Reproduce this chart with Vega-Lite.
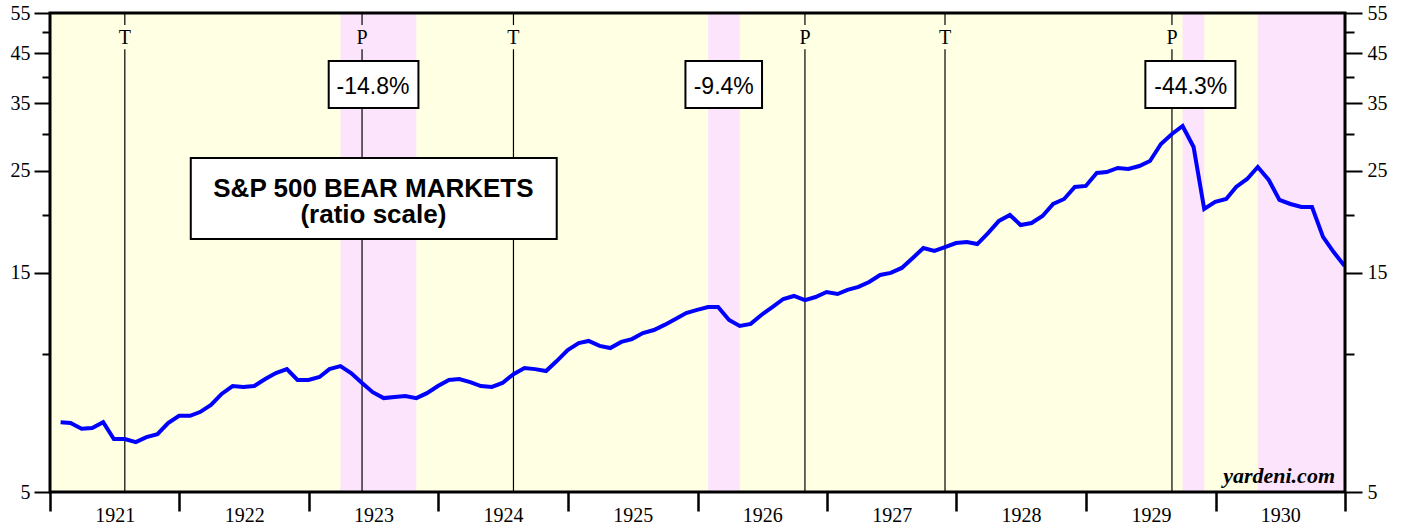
{
  "$schema": "https://vega.github.io/schema/vega-lite/v6.json",
  "width": 1295,
  "height": 479,
  "autosize": {"type": "none"},
  "padding": {"left": 50, "top": 13, "right": 60, "bottom": 37},
  "background": "white",
  "config": {"view": {"stroke": null, "fill": "#FFFFE3"}},
  "datasets": {
    "sp": [
      {"date": "1921-01-31", "value": 7.09}, {"date": "1921-02-28", "value": 7.06}, {"date": "1921-03-31", "value": 6.86}, {"date": "1921-04-30", "value": 6.89},
      {"date": "1921-05-31", "value": 7.09}, {"date": "1921-06-30", "value": 6.52}, {"date": "1921-07-31", "value": 6.52}, {"date": "1921-08-31", "value": 6.42},
      {"date": "1921-09-30", "value": 6.58}, {"date": "1921-10-31", "value": 6.68}, {"date": "1921-11-30", "value": 7.06}, {"date": "1921-12-31", "value": 7.32},
      {"date": "1922-01-31", "value": 7.32}, {"date": "1922-02-28", "value": 7.46}, {"date": "1922-03-31", "value": 7.73}, {"date": "1922-04-30", "value": 8.17},
      {"date": "1922-05-31", "value": 8.50}, {"date": "1922-06-30", "value": 8.46}, {"date": "1922-07-31", "value": 8.50}, {"date": "1922-08-31", "value": 8.80},
      {"date": "1922-09-30", "value": 9.07}, {"date": "1922-10-31", "value": 9.25}, {"date": "1922-11-30", "value": 8.76}, {"date": "1922-12-31", "value": 8.76},
      {"date": "1923-01-31", "value": 8.89}, {"date": "1923-02-28", "value": 9.25}, {"date": "1923-03-31", "value": 9.39}, {"date": "1923-04-30", "value": 9.07},
      {"date": "1923-05-31", "value": 8.63}, {"date": "1923-06-30", "value": 8.24}, {"date": "1923-07-31", "value": 8.00}, {"date": "1923-08-31", "value": 8.04},
      {"date": "1923-09-30", "value": 8.08}, {"date": "1923-10-31", "value": 8.00}, {"date": "1923-11-30", "value": 8.20}, {"date": "1923-12-31", "value": 8.50},
      {"date": "1924-01-31", "value": 8.76}, {"date": "1924-02-29", "value": 8.80}, {"date": "1924-03-31", "value": 8.67}, {"date": "1924-04-30", "value": 8.50},
      {"date": "1924-05-31", "value": 8.46}, {"date": "1924-06-30", "value": 8.63}, {"date": "1924-07-31", "value": 9.02}, {"date": "1924-08-31", "value": 9.30},
      {"date": "1924-09-30", "value": 9.25}, {"date": "1924-10-31", "value": 9.16}, {"date": "1924-11-30", "value": 9.63}, {"date": "1924-12-31", "value": 10.18},
      {"date": "1925-01-31", "value": 10.54}, {"date": "1925-02-28", "value": 10.65}, {"date": "1925-03-31", "value": 10.39}, {"date": "1925-04-30", "value": 10.28},
      {"date": "1925-05-31", "value": 10.60}, {"date": "1925-06-30", "value": 10.75}, {"date": "1925-07-31", "value": 11.08}, {"date": "1925-08-31", "value": 11.25},
      {"date": "1925-09-30", "value": 11.54}, {"date": "1925-10-31", "value": 11.89}, {"date": "1925-11-30", "value": 12.25}, {"date": "1925-12-31", "value": 12.44},
      {"date": "1926-01-31", "value": 12.62}, {"date": "1926-02-28", "value": 12.62}, {"date": "1926-03-31", "value": 11.83}, {"date": "1926-04-30", "value": 11.48},
      {"date": "1926-05-31", "value": 11.60}, {"date": "1926-06-30", "value": 12.13}, {"date": "1926-07-31", "value": 12.62}, {"date": "1926-08-31", "value": 13.14},
      {"date": "1926-09-30", "value": 13.34}, {"date": "1926-10-31", "value": 13.07}, {"date": "1926-11-30", "value": 13.27}, {"date": "1926-12-31", "value": 13.61},
      {"date": "1927-01-31", "value": 13.47}, {"date": "1927-02-28", "value": 13.75}, {"date": "1927-03-31", "value": 13.96}, {"date": "1927-04-30", "value": 14.31},
      {"date": "1927-05-31", "value": 14.82}, {"date": "1927-06-30", "value": 14.97}, {"date": "1927-07-31", "value": 15.35}, {"date": "1927-08-31", "value": 16.13},
      {"date": "1927-09-30", "value": 16.96}, {"date": "1927-10-31", "value": 16.71}, {"date": "1927-11-30", "value": 17.04}, {"date": "1927-12-31", "value": 17.39},
      {"date": "1928-01-31", "value": 17.47}, {"date": "1928-02-29", "value": 17.30}, {"date": "1928-03-31", "value": 18.29}, {"date": "1928-04-30", "value": 19.42},
      {"date": "1928-05-31", "value": 20.01}, {"date": "1928-06-30", "value": 19.03}, {"date": "1928-07-31", "value": 19.22}, {"date": "1928-08-31", "value": 19.91},
      {"date": "1928-09-30", "value": 21.14}, {"date": "1928-10-31", "value": 21.68}, {"date": "1928-11-30", "value": 23.02}, {"date": "1928-12-31", "value": 23.14},
      {"date": "1929-01-31", "value": 24.69}, {"date": "1929-02-28", "value": 24.81}, {"date": "1929-03-31", "value": 25.32}, {"date": "1929-04-30", "value": 25.19},
      {"date": "1929-05-31", "value": 25.57}, {"date": "1929-06-30", "value": 26.22}, {"date": "1929-07-31", "value": 28.55}, {"date": "1929-08-31", "value": 30.01},
      {"date": "1929-09-30", "value": 31.24}, {"date": "1929-10-31", "value": 28.12}, {"date": "1929-11-30", "value": 20.62}, {"date": "1929-12-31", "value": 21.36},
      {"date": "1930-01-31", "value": 21.68}, {"date": "1930-02-28", "value": 23.02}, {"date": "1930-03-31", "value": 23.96}, {"date": "1930-04-30", "value": 25.44},
      {"date": "1930-05-31", "value": 23.84}, {"date": "1930-06-30", "value": 21.57}, {"date": "1930-07-31", "value": 21.14}, {"date": "1930-08-31", "value": 20.82},
      {"date": "1930-09-30", "value": 20.82}, {"date": "1930-10-31", "value": 17.93}, {"date": "1930-11-30", "value": 16.62}, {"date": "1930-12-31", "value": 15.50}
    ],
    "bears": [
      {"date": "1923-03-31", "end": "1923-10-31"},
      {"date": "1926-01-31", "end": "1926-04-30"},
      {"date": "1929-09-30", "end": "1929-11-30"},
      {"date": "1930-04-30", "end": "1932-06-01"}
    ],
    "cycles": [
      {"date": "1921-07-31", "type": "T"},
      {"date": "1923-05-31", "type": "P"},
      {"date": "1924-07-31", "type": "T"},
      {"date": "1926-10-31", "type": "P"},
      {"date": "1927-11-30", "type": "T"},
      {"date": "1929-08-31", "type": "P"}
    ],
    "notes": [
      {"label": "-14.8%", "x1": "1923-02-26", "x2": "1923-11-06", "xc": "1923-07-01"},
      {"label": "-9.4%", "x1": "1925-11-28", "x2": "1926-07-02", "xc": "1926-03-16"},
      {"label": "-44.3%", "x1": "1929-06-17", "x2": "1930-02-26", "xc": "1929-10-23"}
    ],
    "title": [
      {"lines": ["S&P 500 BEAR MARKETS", "(ratio scale)"], "x1": "1922-02-02", "x2": "1924-11-30", "xc": "1923-07-02"}
    ],
    "brand": [
      {"label": "yardeni.com", "xc": "1931-01-01"}
    ],
    "frame": [
      {"x1": "1921-01-01", "x2": "1931-01-01"}
    ]
  },
  "layer": [
    {
      "data": {"name": "bears"},
      "mark": {"type": "rect", "fill": "#FDE4FD", "clip": true},
      "encoding": {
        "x": {"field": "date", "type": "temporal",
          "scale": {"type": "utc", "domain": [{"year": 1921, "month": 1, "date": 1, "utc": true}, {"year": 1931, "month": 1, "date": 1, "utc": true}]},
          "axis": {
            "title": null,
            "values": [
              {"year": 1921, "month": 1, "date": 1, "utc": true}, {"year": 1922, "month": 1, "date": 1, "utc": true},
              {"year": 1923, "month": 1, "date": 1, "utc": true}, {"year": 1924, "month": 1, "date": 1, "utc": true},
              {"year": 1925, "month": 1, "date": 1, "utc": true}, {"year": 1926, "month": 1, "date": 1, "utc": true},
              {"year": 1927, "month": 1, "date": 1, "utc": true}, {"year": 1928, "month": 1, "date": 1, "utc": true},
              {"year": 1929, "month": 1, "date": 1, "utc": true}, {"year": 1930, "month": 1, "date": 1, "utc": true},
              {"year": 1931, "month": 1, "date": 1, "utc": true}
            ],
            "labelExpr": "utcFormat(datum.value, '%Y') == '1931' ? '' : utcFormat(datum.value, '%Y')",
            "labelOffset": 64.75,
            "labelFlush": false,
            "labelBound": false,
            "labelOverlap": false,
            "labelFont": "Liberation Serif",
            "labelFontSize": 20,
            "labelColor": "black",
            "labelBaseline": "top",
            "labelPadding": -6,
            "tickSize": 19,
            "tickWidth": 2.5,
            "tickColor": "black",
            "domain": false,
            "grid": false
          }
        },
        "x2": {"field": "end"}
      }
    },
    {
      "data": {"name": "cycles"},
      "mark": {"type": "rule", "color": "black", "strokeWidth": 1.2},
      "encoding": {
        "x": {"field": "date", "type": "temporal", "scale": {"type": "utc"}},
        "y": {"datum": 51.8, "type": "quantitative", "scale": {"type": "log", "domain": [5, 55], "nice": false}, "axis": null},
        "y2": {"datum": 55}
      }
    },
    {
      "data": {"name": "cycles"},
      "mark": {"type": "rule", "color": "black", "strokeWidth": 1.2},
      "encoding": {
        "x": {"field": "date", "type": "temporal", "scale": {"type": "utc"}},
        "y": {"datum": 5, "type": "quantitative", "scale": {"type": "log", "domain": [5, 55], "nice": false}, "axis": null},
        "y2": {"datum": 45.9}
      }
    },
    {
      "data": {"name": "cycles"},
      "mark": {"type": "text", "font": "Liberation Serif", "fontSize": 20, "color": "black", "baseline": "alphabetic", "align": "center"},
      "encoding": {
        "x": {"field": "date", "type": "temporal", "scale": {"type": "utc"}},
        "y": {"datum": 47.1, "type": "quantitative", "scale": {"type": "log", "domain": [5, 55], "nice": false}, "axis": null},
        "text": {"field": "type"}
      }
    },
    {
      "data": {"name": "sp"},
      "mark": {"type": "line", "color": "#0000FF", "strokeWidth": 4},
      "encoding": {
        "x": {"field": "date", "type": "temporal", "scale": {"type": "utc"}},
        "y": {
          "field": "value", "type": "quantitative",
          "scale": {"type": "log", "domain": [5, 55], "nice": false},
          "axis": {
            "orient": "left", "title": null,
            "values": [5, 10, 15, 20, 25, 30, 35, 40, 45, 50, 55],
            "labelExpr": "datum.value % 10 == 5 ? format(datum.value, 'd') : ''",
            "tickSize": {"condition": {"test": "datum.value % 10 == 5", "value": 16}, "value": 8},
            "tickWidth": 2, "tickColor": "black",
            "labelFont": "Liberation Serif", "labelFontSize": 20, "labelColor": "black",
            "labelPadding": 4, "labelFlush": false, "labelBound": false, "labelOverlap": false,
            "domain": false, "grid": false
          }
        }
      }
    },
    {
      "data": {"name": "title"},
      "mark": {"type": "rect", "fill": "white", "stroke": "black", "strokeWidth": 2},
      "encoding": {
        "x": {"field": "x1", "type": "temporal", "scale": {"type": "utc"}},
        "x2": {"field": "x2"},
        "y": {"datum": 26.6, "type": "quantitative", "scale": {"type": "log", "domain": [5, 55], "nice": false}, "axis": null},
        "y2": {"datum": 17.74}
      }
    },
    {
      "data": {"name": "title"},
      "mark": {"type": "text", "font": "Liberation Sans", "fontSize": 26, "fontWeight": "bold", "color": "black", "align": "center", "baseline": "alphabetic", "lineHeight": 26},
      "encoding": {
        "x": {"field": "xc", "type": "temporal", "scale": {"type": "utc"}},
        "y": {"datum": 21.9, "type": "quantitative", "scale": {"type": "log", "domain": [5, 55], "nice": false}, "axis": null},
        "text": {"field": "lines"}
      }
    },
    {
      "data": {"name": "notes"},
      "mark": {"type": "rect", "fill": "white", "stroke": "black", "strokeWidth": 2},
      "encoding": {
        "x": {"field": "x1", "type": "temporal", "scale": {"type": "utc"}},
        "x2": {"field": "x2"},
        "y": {"datum": 43.25, "type": "quantitative", "scale": {"type": "log", "domain": [5, 55], "nice": false}, "axis": null},
        "y2": {"datum": 34.19}
      }
    },
    {
      "data": {"name": "notes"},
      "mark": {"type": "text", "font": "Liberation Sans", "fontSize": 23, "color": "black", "align": "center", "baseline": "alphabetic"},
      "encoding": {
        "x": {"field": "xc", "type": "temporal", "scale": {"type": "utc"}},
        "y": {"datum": 36.67, "type": "quantitative", "scale": {"type": "log", "domain": [5, 55], "nice": false}, "axis": null},
        "text": {"field": "label"}
      }
    },
    {
      "data": {"name": "brand"},
      "mark": {"type": "text", "font": "Liberation Serif", "fontSize": 22, "fontWeight": "bold", "fontStyle": "italic", "color": "black", "align": "right", "baseline": "alphabetic", "dx": -10, "dy": -9},
      "encoding": {
        "x": {"field": "xc", "type": "temporal", "scale": {"type": "utc"}},
        "y": {
          "datum": 5, "type": "quantitative",
          "scale": {"type": "log", "domain": [5, 55], "nice": false},
          "axis": {
            "orient": "right", "title": null,
            "values": [5, 10, 15, 20, 25, 30, 35, 40, 45, 50, 55],
            "labelExpr": "datum.value % 10 == 5 ? format(datum.value, 'd') : ''",
            "tickSize": {"condition": {"test": "datum.value % 10 == 5", "value": 17}, "value": 9},
            "tickWidth": 2, "tickColor": "black",
            "labelFont": "Liberation Serif", "labelFontSize": 20, "labelColor": "black",
            "labelPadding": 5, "labelFlush": false, "labelBound": false, "labelOverlap": false,
            "domain": false, "grid": false
          }
        },
        "text": {"field": "label"}
      }
    },
    {
      "data": {"name": "frame"},
      "mark": {"type": "rect", "filled": false, "stroke": "black", "strokeWidth": 3},
      "encoding": {
        "x": {"field": "x1", "type": "temporal", "scale": {"type": "utc"}},
        "x2": {"field": "x2"},
        "y": {"datum": 5, "type": "quantitative", "scale": {"type": "log", "domain": [5, 55], "nice": false}, "axis": null},
        "y2": {"datum": 55}
      }
    }
  ],
  "resolve": {"axis": {"y": "independent"}}
}
